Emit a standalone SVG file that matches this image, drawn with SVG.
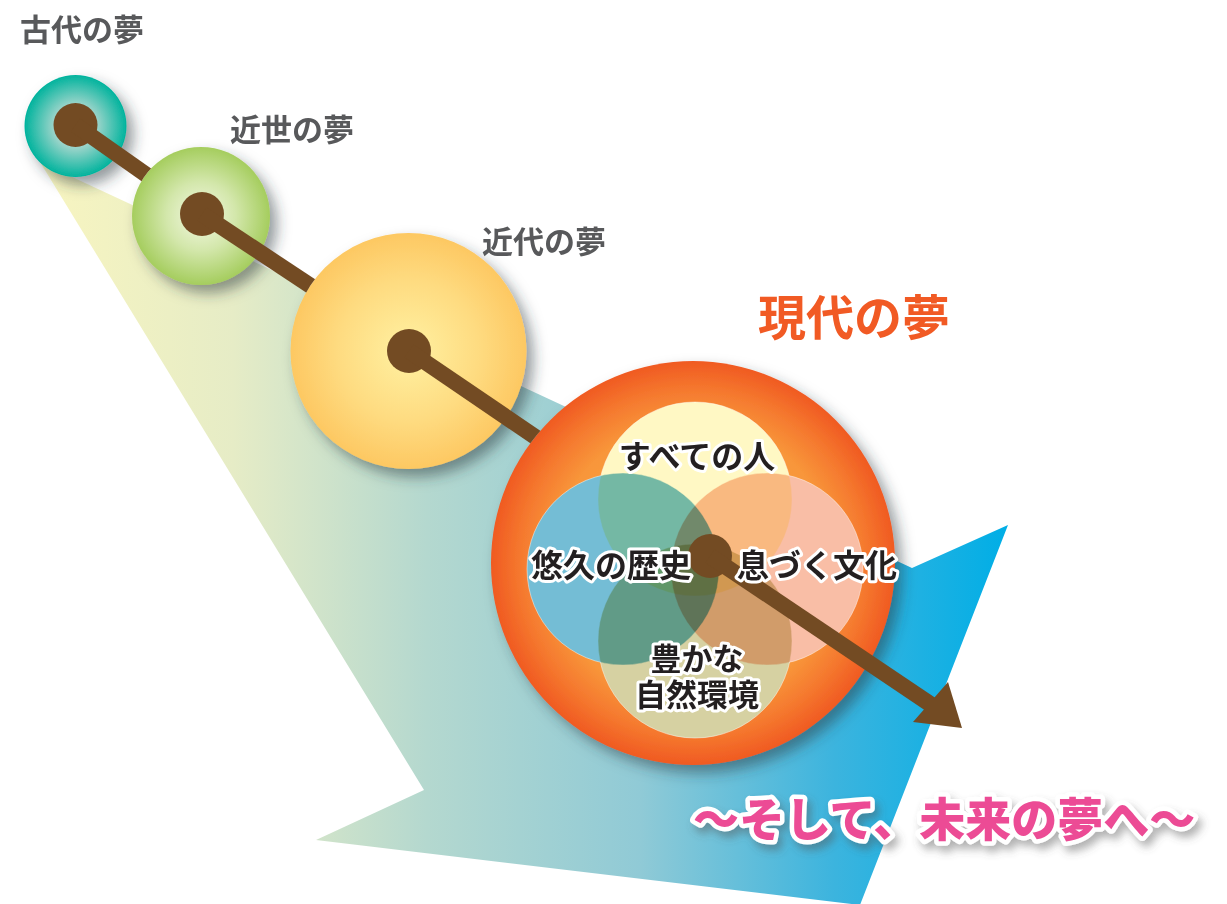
<svg xmlns="http://www.w3.org/2000/svg" width="1227" height="904" viewBox="0 0 1227 904">
<defs>
<style>
.era{font-family:"Noto Sans CJK JP","Noto Sans",sans-serif;font-size:31px;font-weight:600;fill:#58595b}
.now{font-family:"Noto Sans CJK JP","Noto Sans",sans-serif;font-size:48px;font-weight:600;fill:#f15a24}
.venn{font-family:"Noto Sans CJK JP","Noto Sans",sans-serif;font-size:32px;font-weight:700;fill:#231f20;stroke:#ffffff;stroke-width:6px;stroke-linejoin:round;paint-order:stroke;text-anchor:middle}
.venn2{font-size:31px}
.future{font-family:"Noto Sans CJK JP","Noto Sans",sans-serif;font-size:46px;font-weight:900;fill:#ec4c95;stroke:#ffffff;stroke-width:9px;stroke-linejoin:round;paint-order:stroke}
.dot{fill:#734b23}
.link{stroke:#734b23;stroke-width:16;fill:none}
.petal{mix-blend-mode:multiply;stroke:#ffffff;stroke-opacity:.45;stroke-width:1}
</style>
<linearGradient id="bgGrad" gradientUnits="userSpaceOnUse" x1="40" y1="0" x2="1008" y2="0">
<stop offset="0" stop-color="#f8f5c0"/>
<stop offset="0.2" stop-color="#e6ecc6"/>
<stop offset="0.4" stop-color="#b4d8cf"/>
<stop offset="0.62" stop-color="#90cad6"/>
<stop offset="0.82" stop-color="#3cb4de"/>
<stop offset="1" stop-color="#00aee6"/>
</linearGradient>
<radialGradient id="tealGrad" cx="0.5" cy="0.5" r="0.5">
<stop offset="0" stop-color="#e0f1ec"/>
<stop offset="0.45" stop-color="#95d3c8"/>
<stop offset="1" stop-color="#00b39d"/>
</radialGradient>
<radialGradient id="greenGrad" cx="0.5" cy="0.5" r="0.5">
<stop offset="0" stop-color="#f4f8e4"/>
<stop offset="0.5" stop-color="#d3e7ab"/>
<stop offset="1" stop-color="#a5cd5e"/>
</radialGradient>
<radialGradient id="yellowGrad" cx="0.5" cy="0.5" r="0.5">
<stop offset="0" stop-color="#fff1a2"/>
<stop offset="0.6" stop-color="#fedb80"/>
<stop offset="1" stop-color="#fdc862"/>
</radialGradient>
<radialGradient id="orangeGrad" gradientUnits="userSpaceOnUse" cx="693" cy="563" r="202">
<stop offset="0" stop-color="#fbab42"/>
<stop offset="0.7" stop-color="#f8963a"/>
<stop offset="0.86" stop-color="#f5782e"/>
<stop offset="1" stop-color="#f05a22"/>
</radialGradient>
<filter id="shadow" x="-30%" y="-30%" width="160%" height="160%">
<feDropShadow dx="7" dy="8" stdDeviation="7" flood-color="#27363c" flood-opacity="0.5"/>
</filter>
<filter id="textShadow" x="-10%" y="-40%" width="120%" height="180%">
<feDropShadow dx="4" dy="6" stdDeviation="4" flood-color="#555555" flood-opacity="0.45"/>
</filter>
<clipPath id="clip1"><path clip-rule="evenodd" d="M0 0H1227V904H0Z M270 216a69 69 0 1 0 -138 0a69 69 0 1 0 138 0Z"/></clipPath>
<clipPath id="clip2"><path clip-rule="evenodd" d="M0 0H1227V904H0Z M526.5 351a118 118 0 1 0 -236 0a118 118 0 1 0 236 0Z"/></clipPath>
<clipPath id="clip3"><path clip-rule="evenodd" d="M0 0H1227V904H0Z M895 563a202 202 0 1 0 -404 0a202 202 0 1 0 404 0Z"/></clipPath>
</defs>

<g id="background-arrow">
<polygon points="40,162 912,568 1008,525 860,905 316,840 424,790" fill="url(#bgGrad)"/>
</g>

<g id="node-ancient">
<circle cx="75.5" cy="126" r="51" fill="url(#tealGrad)" filter="url(#shadow)"/>
<circle class="dot" cx="75.5" cy="125" r="22"/>
<text class="era" x="20" y="41">古代の夢</text>
</g>

<g id="node-early-modern">
<circle cx="201" cy="216" r="69" fill="url(#greenGrad)" filter="url(#shadow)"/>
<circle class="dot" cx="202" cy="214" r="22"/>
<text class="era" x="230" y="141">近世の夢</text>
</g>

<g id="node-modern">
<circle cx="408.5" cy="351" r="118" fill="url(#yellowGrad)" filter="url(#shadow)"/>
<circle class="dot" cx="409" cy="351" r="22"/>
<text class="era" x="482" y="253">近代の夢</text>
</g>

<g id="node-present">
<circle cx="693" cy="563" r="202" fill="url(#orangeGrad)" filter="url(#shadow)"/>
<g style="isolation:isolate">
<circle class="petal" cx="695" cy="499" r="97" fill="#fff8c4"/>
<circle class="petal" cx="623" cy="569" r="96" fill="#74bdd5"/>
<circle class="petal" cx="767" cy="569" r="96" fill="#f9bea6"/>
<circle class="petal" cx="695" cy="641" r="97" fill="#d6d1a2"/>
</g>
<circle class="dot" cx="710" cy="556" r="22"/>
<text class="now" x="758" y="335">現代の夢</text>
</g>

<g id="connectors">
<line class="link" x1="75.5" y1="125" x2="202" y2="214" clip-path="url(#clip1)"/>
<line class="link" x1="202" y1="214" x2="409" y2="351" clip-path="url(#clip2)"/>
<line class="link" x1="409" y1="351" x2="710" y2="556" clip-path="url(#clip3)"/>
<line class="link" x1="710" y1="556" x2="936" y2="708"/>
<polygon points="962,728 948,682 913,722" fill="#734b23"/>
</g>

<g id="present-labels">
<text class="venn" x="697" y="468">すべての人</text>
<text class="venn" x="611" y="577">悠久の歴史</text>
<text class="venn" x="817" y="577">息づく文化</text>
<text class="venn venn2" x="697" y="670"><tspan x="697" y="670">豊かな</tspan><tspan x="697" y="706">自然環境</tspan></text>
</g>

<g id="node-future">
<text class="future" x="693" y="836" filter="url(#textShadow)">〜そして、未来の夢へ〜</text>
</g>
</svg>
